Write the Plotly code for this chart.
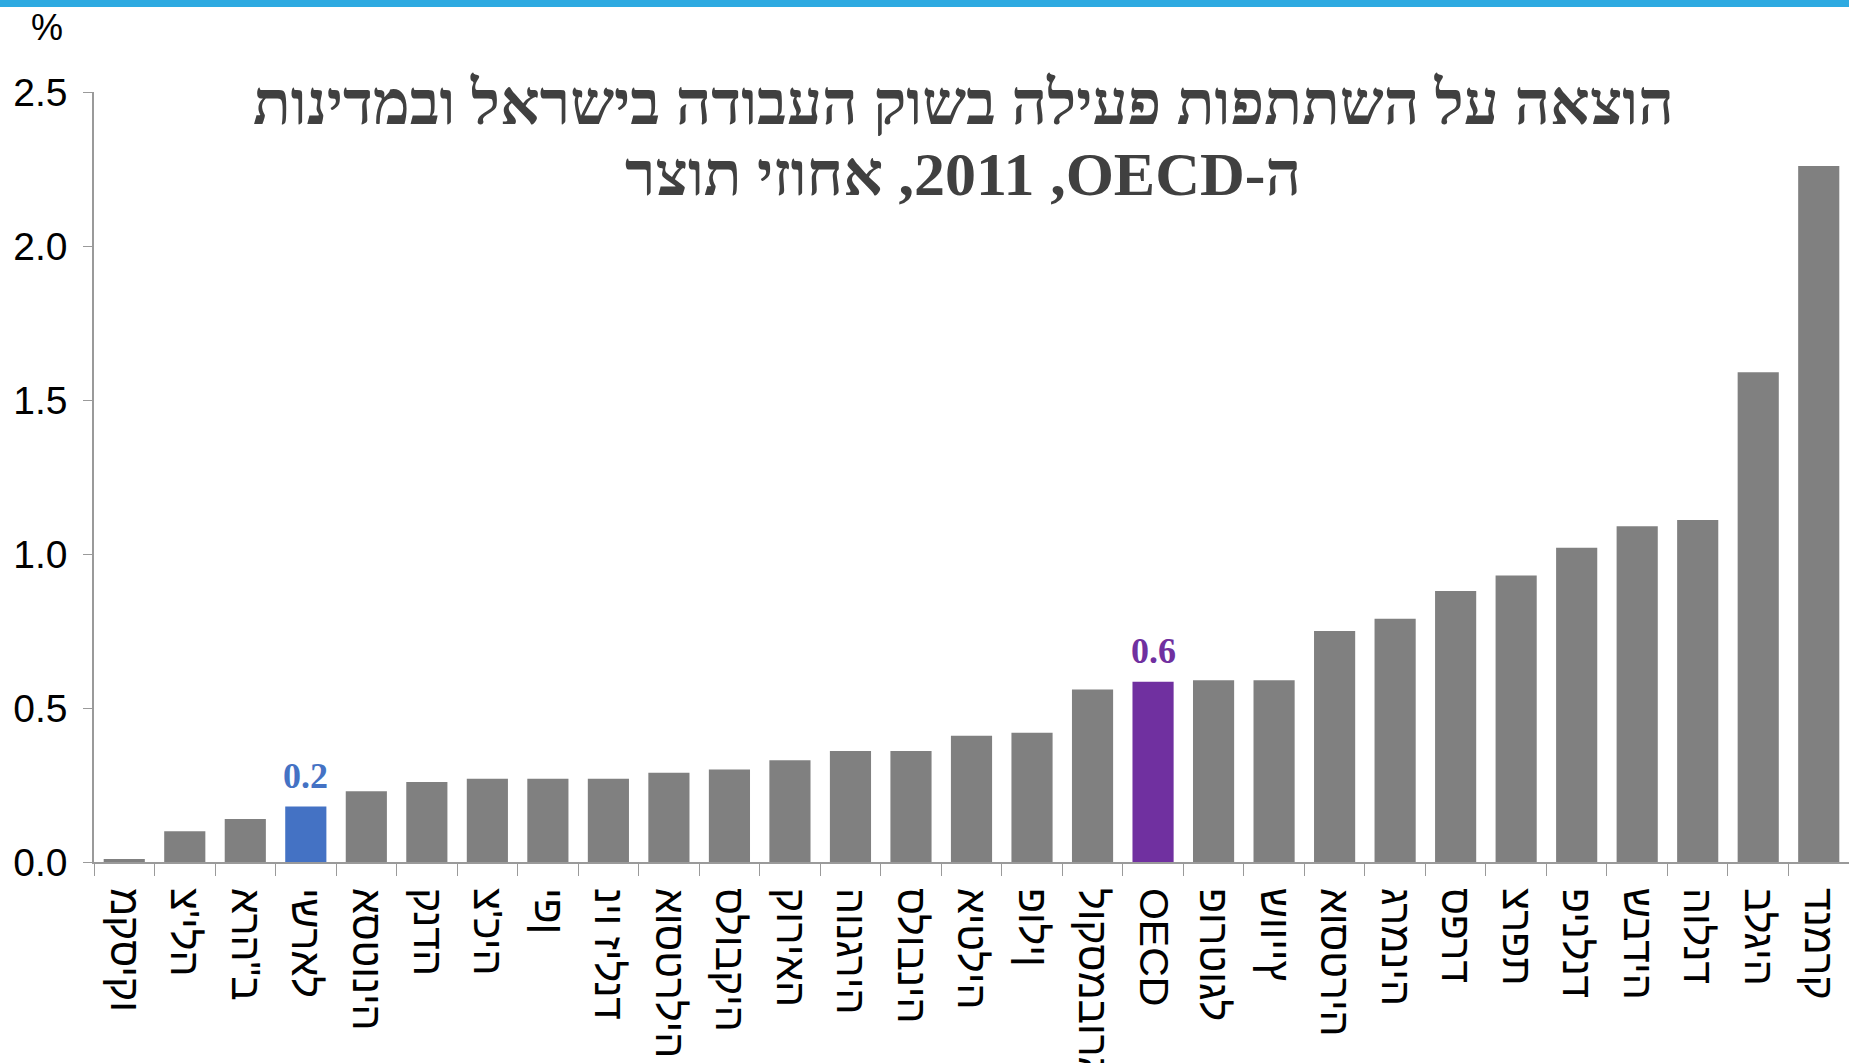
import plotly.graph_objects as go

# ---- data ----
countries = ["מקסיקו", "צ'ילה", "ארה\"ב", "ישראל", "אסטוניה", "קנדה", "צ'כיה", "יפן",
             "ניו זילנד", "אוסטרליה", "סלובקיה", "קוריאה", "הונגריה", "סלובניה", "איטליה",
             "פולין", "לוקסמבורג", "OECD", "פורטוגל", "שווייץ", "אוסטריה", "גרמניה", "ספרד",
             "צרפת", "פינלנד", "שבדיה", "הולנד", "בלגיה", "דנמרק"]
values = [0.01, 0.10, 0.14, 0.18, 0.23, 0.26, 0.27, 0.27, 0.27, 0.29, 0.30, 0.33, 0.36, 0.36,
          0.41, 0.42, 0.56, 0.585, 0.59, 0.59, 0.75, 0.79, 0.88, 0.93, 1.02, 1.09, 1.11, 1.59, 2.26]
highlight = {"ישראל": "#4472C4", "OECD": "#7030A0"}
y_ticks = [0, 0.5, 1.0, 1.5, 2.0, 2.5]
title_lines = ["הוצאה על השתתפות פעילה בשוק העבודה בישראל ובמדינות",
               "ה-OECD,\u200f 2011, אחוזי תוצר"]
y_unit = "%"

# ---- layout constants ----
W, H = 1849, 1063
ML, MR, MT, MB = 94, 0, 92, 201
PW, PH = W - ML - MR, H - MT - MB
BASE_GRAY = "#808080"
AXIS_GRAY = "#9a9a9a"
SANS = "Liberation Sans, Arial, sans-serif"
SERIF = "Liberation Serif, Times New Roman, serif"


def px_x(px):
    return (px - ML) / PW


def px_y(py):
    return (H - MB - py) / PH


LRO, RLE, PDF = "\u202d", "\u202b", "\u202c"

colors = [highlight.get(c, BASE_GRAY) for c in countries]

fig = go.Figure(go.Bar(
    x=countries, y=values, marker=dict(color=colors, line=dict(width=0)),
    hoverinfo="x+y",
))

# value labels above highlighted bars
for c, v in zip(countries, values):
    if c in highlight:
        fig.add_annotation(x=c, y=v, xref="x", yref="y", text=f"<b>{v:.1f}</b>",
                           showarrow=False, yanchor="middle", yshift=31,
                           font=dict(family=SERIF, size=36, color=highlight[c]))

# title lines
for line, py in zip(title_lines, [103, 174]):
    fig.add_annotation(x=px_x(963), y=px_y(py), xref="paper", yref="paper",
                       text=f"<b>{RLE}{line}{PDF}</b>", showarrow=False,
                       xanchor="center", yanchor="middle",
                       font=dict(family=SERIF, size=62, color="#404040"))

# unit label
fig.add_annotation(x=px_x(47), y=px_y(28), xref="paper", yref="paper", text=y_unit,
                   showarrow=False, xanchor="center", yanchor="middle",
                   font=dict(family=SANS, size=36, color="#000000"))

# top blue band
fig.add_shape(type="rect", xref="paper", yref="paper", x0=px_x(-5), x1=px_x(W + 5),
              y0=px_y(7), y1=px_y(-5), fillcolor="#2EAAE1", line=dict(width=0), layer="above")

fig.update_layout(
    width=W, height=H, margin=dict(l=ML, r=MR, t=MT, b=MB, autoexpand=False),
    paper_bgcolor="white", plot_bgcolor="white", showlegend=False, bargap=0.32,
    font=dict(family=SANS, color="#000000"),
)
fig.update_xaxes(
    type="category", tickmode="array", tickvals=countries,
    ticktext=[f"{LRO}{c}{PDF}" for c in countries],
    tickangle=90, tickson="boundaries", ticks="outside", ticklen=12, tickcolor=AXIS_GRAY,
    showline=True, linecolor=AXIS_GRAY, linewidth=1.5, showgrid=False, automargin=False,
    tickfont=dict(family=SANS, size=41, color="#000000"), ticklabelstandoff=16,
)
fig.update_yaxes(
    range=[0, 2.5], tickmode="array", tickvals=y_ticks,
    ticktext=[f"{t:.1f}" for t in y_ticks], ticks="outside", ticklen=9, tickcolor=AXIS_GRAY,
    showline=True, linecolor=AXIS_GRAY, linewidth=1.5, showgrid=False, zeroline=False,
    automargin=False, tickfont=dict(family=SANS, size=39, color="#000000"),
    ticklabelstandoff=8,
)

fig.write_html("out.html", config={"displayModeBar": False},
               post_script="document.body.style.margin='0px';")
